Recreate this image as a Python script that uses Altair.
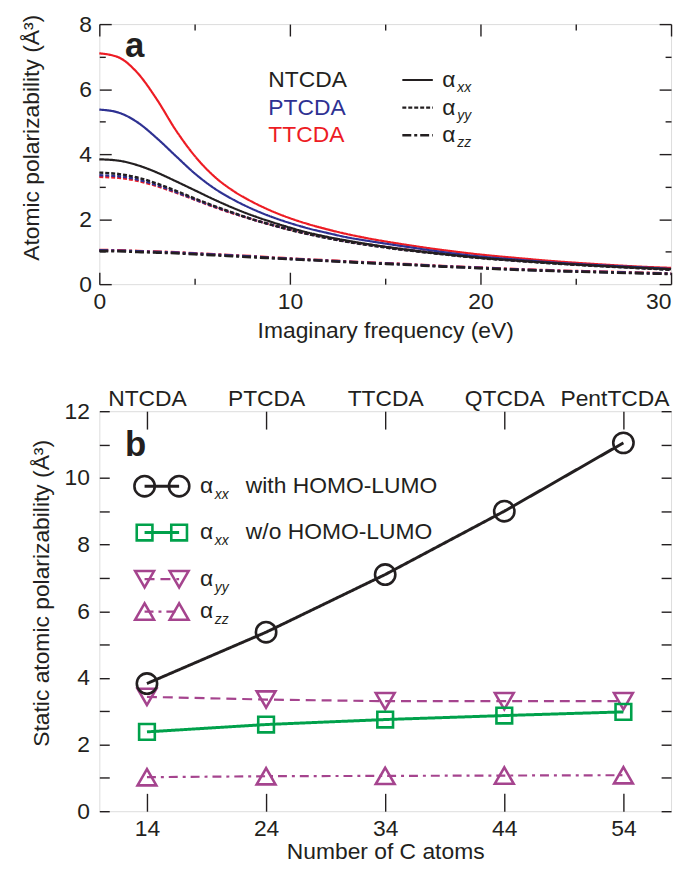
import altair as alt
import pandas as pd

# ---------------- panel a : dynamic polarizability ----------------
freq = [0, 1, 2, 3, 4, 5, 6, 7, 8, 9, 10, 11, 12, 13, 14, 16, 18, 20, 22, 24, 26, 28, 30]

ntcda_xx = [3.84, 3.80, 3.66, 3.44, 3.17, 2.89, 2.61, 2.35, 2.12, 1.92, 1.74, 1.58, 1.45, 1.34, 1.24, 1.07, 0.93, 0.81, 0.72, 0.64, 0.57, 0.51, 0.46]
ptcda_xx = [5.37, 5.28, 4.98, 4.50, 3.95, 3.41, 2.96, 2.61, 2.32, 2.08, 1.88, 1.71, 1.57, 1.44, 1.34, 1.16, 0.99, 0.85, 0.75, 0.66, 0.59, 0.53, 0.47]
ttcda_xx = [7.10, 6.98, 6.50, 5.70, 4.75, 3.95, 3.33, 2.88, 2.54, 2.26, 2.03, 1.84, 1.68, 1.54, 1.42, 1.22, 1.05, 0.91, 0.80, 0.70, 0.62, 0.55, 0.50]

ntcda_yy = [3.43, 3.39, 3.28, 3.10, 2.88, 2.64, 2.41, 2.20, 2.00, 1.83, 1.67, 1.53, 1.41, 1.30, 1.21, 1.05, 0.92, 0.80, 0.71, 0.63, 0.56, 0.50, 0.44]
ptcda_yy = [3.35, 3.32, 3.22, 3.05, 2.84, 2.61, 2.39, 2.19, 2.00, 1.83, 1.68, 1.54, 1.42, 1.31, 1.22, 1.06, 0.93, 0.81, 0.72, 0.64, 0.57, 0.51, 0.45]
ttcda_yy = [3.30, 3.27, 3.18, 3.02, 2.82, 2.60, 2.38, 2.18, 2.00, 1.83, 1.68, 1.55, 1.43, 1.32, 1.23, 1.07, 0.94, 0.82, 0.73, 0.65, 0.58, 0.52, 0.46]

ntcda_zz = [1.02, 1.01, 0.99, 0.97, 0.95, 0.92, 0.89, 0.86, 0.83, 0.80, 0.77, 0.74, 0.71, 0.68, 0.65, 0.60, 0.54, 0.49, 0.44, 0.40, 0.37, 0.34, 0.31]
ptcda_zz = [1.04, 1.03, 1.01, 0.99, 0.97, 0.94, 0.91, 0.88, 0.85, 0.81, 0.78, 0.75, 0.72, 0.69, 0.66, 0.61, 0.55, 0.50, 0.45, 0.41, 0.38, 0.35, 0.32]
ttcda_zz = [1.05, 1.04, 1.02, 1.00, 0.98, 0.95, 0.92, 0.89, 0.86, 0.82, 0.79, 0.76, 0.73, 0.70, 0.67, 0.62, 0.56, 0.51, 0.46, 0.42, 0.39, 0.36, 0.33]

molecules = ["NTCDA", "PTCDA", "TTCDA"]
mol_colors = ["#231f20", "#2e3192", "#ed1c24"]
components = ["xx", "yy", "zz"]

# legend annotation of panel a (data units)
mol_label_x = 8.87
legend_rows_y = [6.28, 5.43, 4.58]
legend_line_x = [15.9, 17.5]
legend_alpha_x = 18.0
panel_a_label = ("a", 1.35, 7.0)

# ---------------- panel b : static polarizability ----------------
n_carbon = [14, 24, 34, 44, 54]
mol_names_b = ["NTCDA", "PTCDA", "TTCDA", "QTCDA", "PentTCDA"]
xx_with = [3.83, 5.37, 7.10, 9.00, 11.05]
xx_without = [2.38, 2.60, 2.75, 2.87, 2.98]
yy_static = [3.43, 3.35, 3.30, 3.30, 3.30]
zz_static = [1.02, 1.05, 1.06, 1.07, 1.08]

legend_b_rows_y = [9.75, 8.36, 6.96, 5.99]
legend_b_marker_x = [13.8, 16.7]
legend_b_alpha_x = 18.45
legend_b_desc_x = 22.3
legend_b_desc = ["with HOMO-LUMO", "w/o HOMO-LUMO", "", ""]
legend_b_sub = ["xx", "xx", "yy", "zz"]
panel_b_label = ("b", 12.15, 10.67)

# ---------------- styling ----------------
FONT = "Liberation Sans"
BLACK = "#231f20"
GREEN = "#00a14b"
PURPLE = "#a5448e"
FS = 23
W = 576

xs_a = alt.Scale(domain=[0, 30], nice=False, zero=False)
ys_a = alt.Scale(domain=[0, 8], nice=False, zero=False)
xs_b = alt.Scale(domain=[10, 58], nice=False, zero=False)
ys_b = alt.Scale(domain=[0, 12], nice=False, zero=False)

dash_scale = alt.Scale(domain=components, range=[[1, 0], [4, 2], [9, 3, 3, 3]])
width_scale = alt.Scale(domain=components, range=[2.2, 2.6, 2.6])


def axis(orient, values, size, labels=True, title="", label_expr=None, label_pad=6, title_pad=6,
         title_y=None, shift_value=None, shift=0):
    kw = dict(
        orient=orient, values=values, tickSize=size, offset=-size, domain=False, grid=False,
        ticks=True, tickColor=BLACK, tickWidth=1.4, labels=labels, minExtent=0,
        labelFont=FONT, labelFontSize=FS, labelColor=BLACK, labelPadding=label_pad,
        labelFlush=False, labelOverlap=False,
        titleFont=FONT, titleFontSize=FS, titleFontWeight="normal", titleColor=BLACK,
        titlePadding=title_pad, title=title,
    )
    if label_expr is not None:
        kw["labelExpr"] = label_expr
    if title_y is not None:
        kw["titleY"] = title_y
    if shift_value is not None:
        kw["labelOffset"] = {"condition": {"test": f"datum.value == {shift_value}", "value": shift}, "value": 0}
    return alt.Axis(**kw)


def axis_layer(df, xs, ys, xaxis, yaxis):
    return alt.Chart(df).mark_point(opacity=0).encode(
        x=alt.X("x:Q", scale=xs, axis=xaxis),
        y=alt.Y("y:Q", scale=ys, axis=yaxis),
    )


# ---------------- build panel a ----------------
series_vals = {
    ("NTCDA", "xx"): ntcda_xx, ("PTCDA", "xx"): ptcda_xx, ("TTCDA", "xx"): ttcda_xx,
    ("NTCDA", "yy"): ntcda_yy, ("PTCDA", "yy"): ptcda_yy, ("TTCDA", "yy"): ttcda_yy,
    ("NTCDA", "zz"): ntcda_zz, ("PTCDA", "zz"): ptcda_zz, ("TTCDA", "zz"): ttcda_zz,
}
rows = []
for (mol, comp), vals in series_vals.items():
    for f, v in zip(freq, vals):
        rows.append({"freq": f, "val": v, "mol": mol, "comp": comp})
df_a = pd.DataFrame(rows)

dummy_a = pd.DataFrame({"x": [0], "y": [0]})
layers_a = [
    axis_layer(dummy_a, xs_a, ys_a,
               axis("bottom", [0, 10, 20, 30], 12, title="Imaginary frequency (eV)", label_pad=7, title_pad=6,
                    shift_value=30, shift=-13),
               axis("left", [0, 2, 4, 6, 8], 12, title="Atomic polarizability (Å³)", label_pad=8, title_pad=35,
                    title_y=114)),
    axis_layer(dummy_a, xs_a, ys_a,
               axis("bottom", [5, 15, 25], 6, labels=False, title=None),
               axis("left", [1, 3, 5, 7], 6, labels=False, title=None)),
    axis_layer(dummy_a, xs_a, ys_a,
               axis("top", [0, 10, 20, 30], 12, labels=False, title=None),
               axis("right", [0, 2, 4, 6, 8], 12, labels=False, title=None)),
    axis_layer(dummy_a, xs_a, ys_a,
               axis("top", [5, 15, 25], 6, labels=False, title=None),
               axis("right", [1, 3, 5, 7], 6, labels=False, title=None)),
]

for mol in ["TTCDA", "PTCDA", "NTCDA"]:
    color = mol_colors[molecules.index(mol)]
    layers_a.append(
        alt.Chart(df_a[df_a["mol"] == mol]).mark_line(color=color, interpolate="monotone").encode(
            x=alt.X("freq:Q", scale=xs_a, axis=None),
            y=alt.Y("val:Q", scale=ys_a, axis=None),
            strokeDash=alt.StrokeDash("comp:N", scale=dash_scale, legend=None),
            strokeWidth=alt.StrokeWidth("comp:N", scale=width_scale, legend=None),
            detail="comp:N",
        )
    )

leg_a = pd.DataFrame({
    "mol": molecules, "comp": components, "y": legend_rows_y,
    "xm": [mol_label_x] * 3, "x1": [legend_line_x[0]] * 3, "x2": [legend_line_x[1]] * 3,
    "xa": [legend_alpha_x] * 3, "alpha": ["α"] * 3,
})
layers_a.append(
    alt.Chart(leg_a).mark_text(align="left", baseline="middle", font=FONT, fontSize=FS).encode(
        x=alt.X("xm:Q", scale=xs_a, axis=None), y=alt.Y("y:Q", scale=ys_a, axis=None),
        text="mol:N",
        color=alt.Color("mol:N", scale=alt.Scale(domain=molecules, range=mol_colors), legend=None),
    )
)
layers_a.append(
    alt.Chart(leg_a).mark_rule(color=BLACK).encode(
        x=alt.X("x1:Q", scale=xs_a, axis=None), x2="x2:Q",
        y=alt.Y("y:Q", scale=ys_a, axis=None),
        strokeDash=alt.StrokeDash("comp:N", scale=dash_scale, legend=None),
        strokeWidth=alt.StrokeWidth("comp:N", scale=width_scale, legend=None),
    )
)
layers_a.append(
    alt.Chart(leg_a).mark_text(align="left", baseline="middle", font=FONT, fontSize=FS, color=BLACK).encode(
        x=alt.X("xa:Q", scale=xs_a, axis=None), y=alt.Y("y:Q", scale=ys_a, axis=None), text="alpha:N",
    )
)
layers_a.append(
    alt.Chart(leg_a).mark_text(align="left", baseline="middle", font=FONT, fontSize=14, fontStyle="italic",
                               color=BLACK, dx=15, dy=8).encode(
        x=alt.X("xa:Q", scale=xs_a, axis=None), y=alt.Y("y:Q", scale=ys_a, axis=None), text="comp:N",
    )
)
lab_a = pd.DataFrame({"t": [panel_a_label[0]], "x": [panel_a_label[1]], "y": [panel_a_label[2]]})
layers_a.append(
    alt.Chart(lab_a).mark_text(align="left", baseline="alphabetic", font=FONT, fontSize=35,
                               fontWeight="bold", color=BLACK).encode(
        x=alt.X("x:Q", scale=xs_a, axis=None), y=alt.Y("y:Q", scale=ys_a, axis=None), text="t:N",
    )
)

panel_a = alt.layer(*layers_a).resolve_axis(x="independent", y="independent").properties(width=W, height=262)

# ---------------- build panel b ----------------
top_expr = " : ".join(f"datum.value == {n} ? '{m}'" for n, m in zip(n_carbon, mol_names_b)) + " : ''"
dummy_b = pd.DataFrame({"x": [14], "y": [0]})
y_all = list(range(0, 13))
layers_b = [
    axis_layer(dummy_b, xs_b, ys_b,
               axis("bottom", n_carbon, 18, title="Number of C atoms", label_pad=6, title_pad=1),
               axis("left", y_all, 10, title="Static atomic polarizability (Å³)", label_pad=10, title_pad=11,
                    label_expr="datum.value % 2 == 0 ? datum.label : ''", title_y=183)),
    axis_layer(dummy_b, xs_b, ys_b,
               axis("top", n_carbon, 18, title=None, label_pad=1, label_expr=top_expr,
                    shift_value=54, shift=-9),
               axis("right", y_all, 10, labels=False, title=None)),
]

series_b = [
    ("zz", zz_static, PURPLE, "triangle-up", [9, 5, 3, 5], 2.2, 360),
    ("yy", yy_static, PURPLE, "triangle-down", [10, 6], 2.2, 360),
    ("wo", xx_without, GREEN, "square", [1, 0], 3.0, 250),
    ("with", xx_with, BLACK, "circle", [1, 0], 3.0, 420),
]
for name, vals, color, shape, dash, sw, size in series_b:
    d = pd.DataFrame({"n": n_carbon, "v": vals})
    layers_b.append(
        alt.Chart(d).mark_line(color=color, strokeWidth=sw, strokeDash=dash).encode(
            x=alt.X("n:Q", scale=xs_b, axis=None), y=alt.Y("v:Q", scale=ys_b, axis=None),
        )
    )
    layers_b.append(
        alt.Chart(d).mark_point(shape=shape, filled=False, color=color, strokeWidth=2.6, size=size, opacity=1).encode(
            x=alt.X("n:Q", scale=xs_b, axis=None), y=alt.Y("v:Q", scale=ys_b, axis=None),
        )
    )

# legend of panel b (rows in same order as legend_b_rows_y)
legend_b_style = [
    (BLACK, "circle", [1, 0], 3.0, 420),
    (GREEN, "square", [1, 0], 3.0, 250),
    (PURPLE, "triangle-down", [10, 6], 2.2, 360),
    (PURPLE, "triangle-up", [9, 5, 3, 5], 2.2, 360),
]
for (color, shape, dash, sw, size), y in zip(legend_b_style, legend_b_rows_y):
    seg = pd.DataFrame({"x": legend_b_marker_x, "y": [y, y]})
    layers_b.append(
        alt.Chart(seg).mark_line(color=color, strokeWidth=sw, strokeDash=dash).encode(
            x=alt.X("x:Q", scale=xs_b, axis=None), y=alt.Y("y:Q", scale=ys_b, axis=None),
        )
    )
    layers_b.append(
        alt.Chart(seg).mark_point(shape=shape, filled=False, color=color, strokeWidth=2.6, size=size, opacity=1).encode(
            x=alt.X("x:Q", scale=xs_b, axis=None), y=alt.Y("y:Q", scale=ys_b, axis=None),
        )
    )

leg_b = pd.DataFrame({
    "y": legend_b_rows_y, "xa": [legend_b_alpha_x] * 4, "xd": [legend_b_desc_x] * 4,
    "alpha": ["α"] * 4, "sub": legend_b_sub, "desc": legend_b_desc,
})
layers_b.append(
    alt.Chart(leg_b).mark_text(align="left", baseline="middle", font=FONT, fontSize=FS, color=BLACK).encode(
        x=alt.X("xa:Q", scale=xs_b, axis=None), y=alt.Y("y:Q", scale=ys_b, axis=None), text="alpha:N",
    )
)
layers_b.append(
    alt.Chart(leg_b).mark_text(align="left", baseline="middle", font=FONT, fontSize=14, fontStyle="italic",
                               color=BLACK, dx=15, dy=9).encode(
        x=alt.X("xa:Q", scale=xs_b, axis=None), y=alt.Y("y:Q", scale=ys_b, axis=None), text="sub:N",
    )
)
layers_b.append(
    alt.Chart(leg_b).mark_text(align="left", baseline="middle", font=FONT, fontSize=FS, color=BLACK).encode(
        x=alt.X("xd:Q", scale=xs_b, axis=None), y=alt.Y("y:Q", scale=ys_b, axis=None), text="desc:N",
    )
)
lab_b = pd.DataFrame({"t": [panel_b_label[0]], "x": [panel_b_label[1]], "y": [panel_b_label[2]]})
layers_b.append(
    alt.Chart(lab_b).mark_text(align="left", baseline="alphabetic", font=FONT, fontSize=35,
                               fontWeight="bold", color=BLACK).encode(
        x=alt.X("x:Q", scale=xs_b, axis=None), y=alt.Y("y:Q", scale=ys_b, axis=None), text="t:N",
    )
)

panel_b = alt.layer(*layers_b).resolve_axis(x="independent", y="independent").properties(width=W, height=403)

chart = alt.vconcat(panel_a, panel_b, spacing=43).properties(
    padding={"left": 12, "top": 1, "right": 0, "bottom": 0}
).configure_view(stroke=BLACK, strokeWidth=1.5).configure(background="white")

chart.save("out.html", embed_options={"renderer": "svg", "actions": False})
